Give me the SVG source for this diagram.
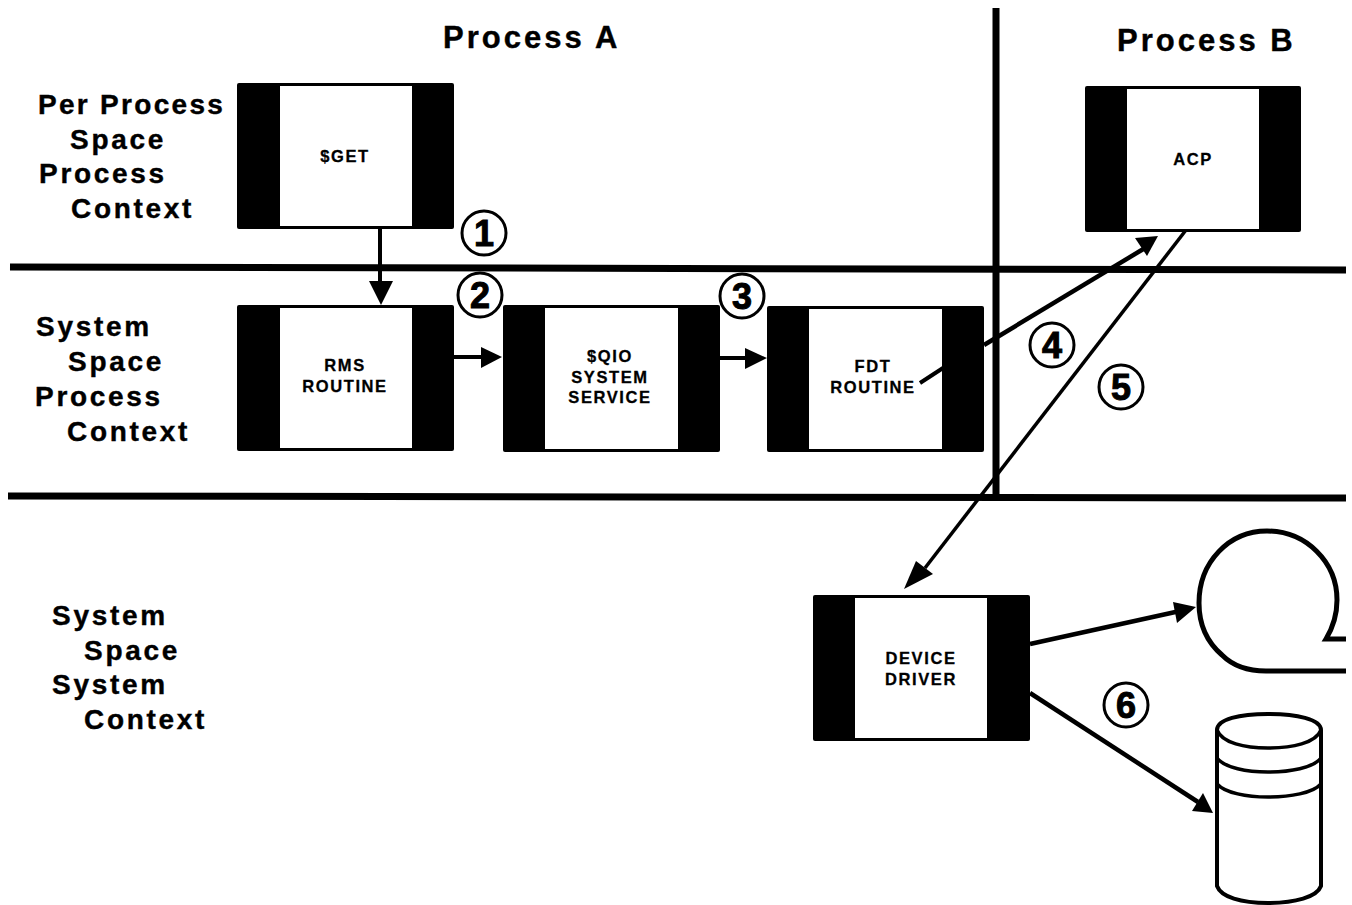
<svg xmlns="http://www.w3.org/2000/svg" width="1352" height="905" viewBox="0 0 1352 905">
<style>
text{font-family:"Liberation Sans",Arial,sans-serif;font-weight:700;fill:#000}
.h{font-size:31px;letter-spacing:3px;stroke:#000;stroke-width:.4px}
.s{font-size:28px;letter-spacing:2.7px;stroke:#000;stroke-width:.4px}
.t{letter-spacing:2.3px}
.b{font-size:16.5px;letter-spacing:1.6px;text-anchor:middle;stroke:#000;stroke-width:.3px}
.n{font-size:36px;text-anchor:middle;stroke:#000;stroke-width:1px}
.k{fill:#000}.w{fill:#fff}
.r{fill:none;stroke:#000;stroke-width:3}
.l{stroke:#000;fill:none}
.a{fill:#000;stroke:none}
</style>
<rect width="1352" height="905" fill="#fff"/>
<g id="dividers">
<path class="l" stroke-width="7" d="M10 267L1346 270M8 496L1346 498"/>
<path class="l" stroke-width="7" d="M996 8V497"/>
</g>
<g id="headings">
<text class="h" x="443" y="48">Process A</text>
<text class="h" x="1117" y="51">Process B</text>
</g>
<g id="row-labels">
<text class="s t" x="38" y="114">Per Process</text>
<text class="s" x="70" y="149">Space</text>
<text class="s" x="39" y="183">Process</text>
<text class="s" x="71" y="218">Context</text>
<text class="s" x="36" y="336">System</text>
<text class="s" x="68" y="371">Space</text>
<text class="s" x="35" y="406">Process</text>
<text class="s" x="67" y="441">Context</text>
<text class="s" x="52" y="625">System</text>
<text class="s" x="84" y="660">Space</text>
<text class="s" x="52" y="694">System</text>
<text class="s" x="84" y="729">Context</text>
</g>
<g id="node-get">
<rect class="k" x="237" y="83" width="217" height="146" rx="2"/><rect class="w" x="280" y="86" width="132" height="140"/>
<text class="b" x="345" y="162">$GET</text>
</g>
<g id="node-acp">
<rect class="k" x="1085" y="86" width="216" height="146" rx="2"/><rect class="w" x="1127" y="89" width="132" height="140"/>
<text class="b" x="1193" y="165">ACP</text>
</g>
<g id="node-rms">
<rect class="k" x="237" y="305" width="217" height="146" rx="2"/><rect class="w" x="280" y="308" width="132" height="140"/>
<text class="b" x="345" y="371">RMS</text><text class="b" x="345" y="392">ROUTINE</text>
</g>
<g id="node-qio">
<rect class="k" x="503" y="305" width="217" height="147" rx="2"/><rect class="w" x="545" y="308" width="133" height="141"/>
<text class="b" x="610" y="362">$QIO</text><text class="b" x="610" y="383">SYSTEM</text><text class="b" x="610" y="403">SERVICE</text>
</g>
<g id="node-fdt">
<rect class="k" x="767" y="306" width="217" height="146" rx="2"/><rect class="w" x="809" y="309" width="133" height="140"/>
<text class="b" x="873" y="372">FDT</text><text class="b" x="873" y="393">ROUTINE</text>
</g>
<g id="node-driver">
<rect class="k" x="813" y="595" width="217" height="146" rx="2"/><rect class="w" x="855" y="598" width="132" height="140"/>
<text class="b" x="921" y="664">DEVICE</text><text class="b" x="921" y="685">DRIVER</text>
</g>
<g id="node-tape">
<path class="l" stroke-width="5" d="M1346 639H1326C1335 624 1337 612 1337 600C1337 562 1306 531 1267 531C1229 531 1199 562 1199 603C1199 625 1208 643 1222 655C1234 667 1250 671 1266 671H1346"/>
</g>
<g id="node-disk">
<path class="l" stroke-width="4" d="M1217 730C1217 719 1240 714 1268 714C1296 714 1321 719 1321 730V886C1317 897 1295 903 1268 903C1241 903 1221 897 1217 886Z"/>
<path class="l" stroke-width="3.5" d="M1217 730C1222 743 1245 748 1268 748C1292 748 1316 743 1321 730M1217 758C1225 768 1247 772 1268 772C1290 772 1313 768 1321 758M1217 784C1225 793 1247 797 1268 797C1290 797 1313 793 1321 784"/>
</g>
<g id="connectors">
<path class="l" stroke-width="4" d="M380 229V284"/><polygon class="a" points="369,281 393,281 381,305"/>
<path class="l" stroke-width="4" d="M454 357H483"/><polygon class="a" points="481,347 502,357 481,368"/>
<path class="l" stroke-width="4" d="M720 358H746"/><polygon class="a" points="745,348 767,358 745,369"/>
<path class="l" stroke-width="4" d="M920 383L943 368"/>
<path class="l" stroke-width="4.5" d="M984 345L1145 248"/><polygon class="a" points="1135,238 1158,236 1147,256"/>
<path class="l" stroke-width="3.5" d="M1186 230L925 568"/><polygon class="a" points="916,561 933,574 904,589"/>
<path class="l" stroke-width="4.5" d="M1030 644L1180 611"/><polygon class="a" points="1173,602 1196,607 1177,623"/>
<path class="l" stroke-width="4.5" d="M1030 693L1198 802"/><polygon class="a" points="1203,793 1213,813 1192,811"/>
</g>
<g id="step-1"><circle class="r" cx="484" cy="233" r="22"/><text class="n" x="484" y="246">1</text></g>
<g id="step-2"><circle class="r" cx="480" cy="295" r="22"/><text class="n" x="480" y="308">2</text></g>
<g id="step-3"><circle class="r" cx="742" cy="296" r="22"/><text class="n" x="742" y="309">3</text></g>
<g id="step-4"><circle class="r" cx="1052" cy="345" r="22"/><text class="n" x="1052" y="358">4</text></g>
<g id="step-5"><circle class="r" cx="1121" cy="387" r="22"/><text class="n" x="1121" y="400">5</text></g>
<g id="step-6"><circle class="r" cx="1126" cy="705" r="22"/><text class="n" x="1126" y="718">6</text></g>
</svg>
